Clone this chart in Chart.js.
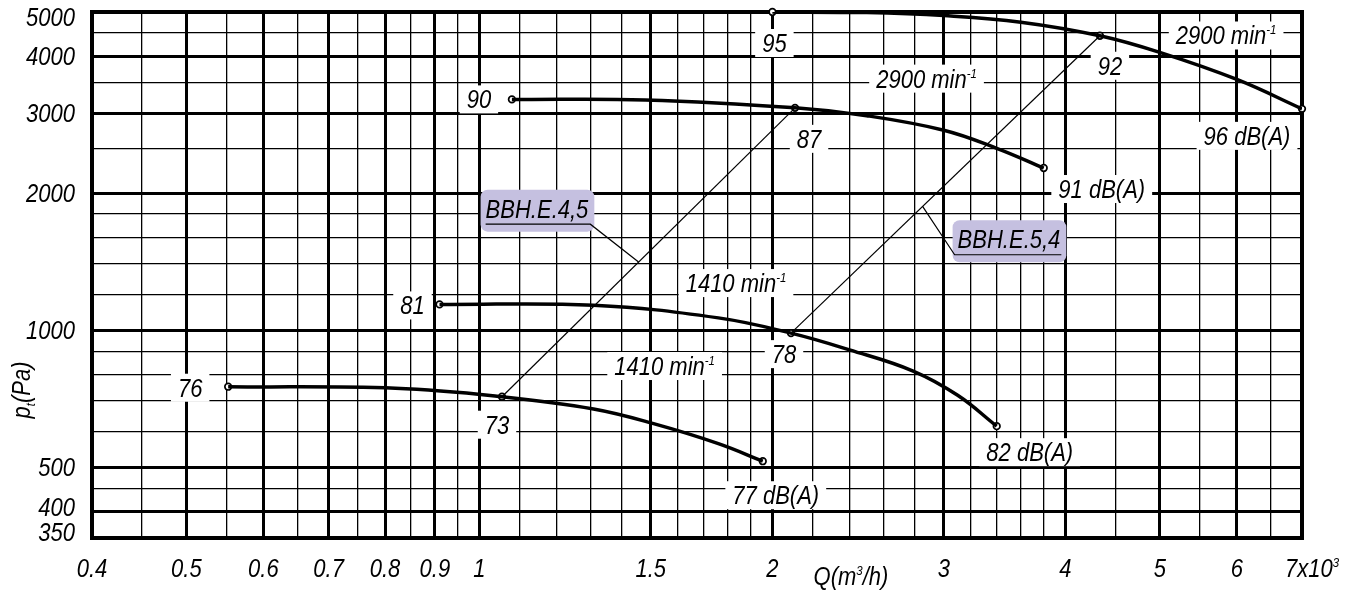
<!DOCTYPE html>
<html>
<head>
<meta charset="utf-8">
<script src="https://cdn.jsdelivr.net/npm/chart.js@4.4.0/dist/chart.umd.min.js"></script>
<style>
  html, body { margin: 0; padding: 0; background: #fff; }
  canvas { display: block; }
</style>
</head>
<body>
<canvas id="fanChart" width="1355" height="594"></canvas>
<script>
// Q in 10^3 m3/h, pt in Pa, both log scales
const qMajor = [0.4, 0.5, 0.6, 0.7, 0.8, 0.9, 1, 1.5, 2, 3, 4, 5, 6, 7];
const qLabels = ['0.4', '0.5', '0.6', '0.7', '0.8', '0.9', '1', '1.5', '2', '3', '4', '5', '6', '7x10'];
const qMinor = [0.45, 0.55, 0.65, 0.75, 0.85, 0.95, 1.1, 1.2, 1.3, 1.4, 1.6, 1.7, 1.8, 1.9,
  2.2, 2.4, 2.6, 2.8, 3.2, 3.4, 3.6, 3.8, 4.5, 5.5, 6.5];
const pMajor = [350, 400, 500, 1000, 2000, 3000, 4000, 5000];
const pLabels = ['350', '400', '500', '1000', '2000', '3000', '4000', '5000'];
const pMinor = [450, 600, 700, 800, 900, 1200, 1400, 1600, 1800, 2500, 3500, 4500];

// BBH.E.4,5 at 1410 min-1
const q45slow = [0.552, 0.82, 1.055, 1.31, 1.51, 1.76, 1.955];
const p45slow = [752, 746, 715, 672, 624, 564, 516];
// BBH.E.5,4 at 1410 min-1
const q54slow = [0.91, 1.31, 1.76, 2.09, 2.4, 2.79, 3.1, 3.4];
const p54slow = [1140, 1135, 1065, 986, 906, 814, 720, 616];
// BBH.E.4,5 at 2900 min-1
const q45fast = [1.08, 1.48, 2.11, 2.5, 3.0, 3.4, 3.8];
const p45fast = [3214, 3205, 3080, 2960, 2750, 2510, 2272];
// BBH.E.5,4 at 2900 min-1
const q54fast = [2.0, 2.5, 3.0, 3.6, 4.34, 5.0, 6.0, 7.0];
const p54fast = [5000, 4985, 4910, 4750, 4434, 4077, 3555, 3064];

// marked points with their sound levels
const qMarks = [0.552, 1.055, 1.955, 0.91, 2.09, 3.4, 1.08, 2.11, 3.8, 2.0, 4.34, 7.0];
const pMarks = [752, 715, 516, 1140, 986, 616, 3214, 3080, 2272, 5000, 4434, 3064];
const dbMarks = ['76', '73', '77 dB(A)', '81', '78', '82 dB(A)', '90', '87', '91 dB(A)', '95', '92', '96 dB(A)'];

// system lines join two marked points (index into marks)
const line45 = [1, 7];
const line54 = [4, 10];

const zip = (qs, ps) => qs.map((q, i) => ({ x: q, y: ps[i] }));

const FONT = 'italic 25px "Liberation Sans", Arial, sans-serif';
const SMALL = 'italic 13px "Liberation Sans", Arial, sans-serif';
const SX = 0.88;

function measure(ctx, parts) {
  let w = 0;
  parts.forEach((p) => {
    ctx.font = p.sup || p.sub ? SMALL : FONT;
    w += ctx.measureText(p.t).width * SX;
  });
  return w;
}
function drawParts(ctx, parts, x, base) {
  parts.forEach((p) => {
    ctx.font = p.sup || p.sub ? SMALL : FONT;
    const dy = p.sup ? -10 : (p.sub ? 5 : 0);
    ctx.save();
    ctx.translate(x, base + dy);
    ctx.scale(SX, 1);
    ctx.fillText(p.t, 0, 0);
    ctx.restore();
    x += ctx.measureText(p.t).width * SX;
  });
}
function whiteLabel(ctx, parts, cx, cy) {
  const w = measure(ctx, parts);
  ctx.fillStyle = '#fff';
  ctx.fillRect(cx - w / 2 - 7, cy - 14, w + 14, 28);
  ctx.fillStyle = '#000';
  drawParts(ctx, parts, cx - w / 2, cy + 9);
}
const rpm = (n) => [{ t: n + ' min' }, { t: '-1', sup: true }];

// label offsets from their marker, px
const dbOffsets = [[-38, 1], [-5, 28], [13, 34], [-27, 1], [-7, 21], [33, 26],
  [-33, 0], [14, 31], [58, 21], [2, 31], [10, 30], [-55, 27]];
const rpmNotes = [
  { text: '2900', q: 5.85, p: 4440 },
  { text: '2900', q: 2.88, p: 3570 },
  { text: '1410', q: 1.835, p: 1270 },
  { text: '1410', q: 1.55, p: 835 },
];
const typeNotes = [
  { text: 'BBH.E.4,5', q: 1.146, p: 1850, line: line45, t: 0.466, side: 'right' },
  { text: 'BBH.E.5,4', q: 3.5, p: 1585, line: line54, t: 0.426, side: 'left' },
];

function roundRect(ctx, x, y, w, h, r) {
  ctx.beginPath();
  ctx.moveTo(x + r, y);
  ctx.arcTo(x + w, y, x + w, y + h, r);
  ctx.arcTo(x + w, y + h, x, y + h, r);
  ctx.arcTo(x, y + h, x, y, r);
  ctx.arcTo(x, y, x + w, y, r);
  ctx.closePath();
}

const paper = {
  id: 'paper',
  beforeDatasetsDraw(chart) {
    const { ctx, chartArea: a, scales: { x, y } } = chart;
    ctx.save();
    ctx.strokeStyle = '#000';
    ctx.lineWidth = 4;
    ctx.strokeRect(a.left, a.top, a.right - a.left, a.bottom - a.top);

    dbMarks.forEach((txt, i) => {
      const px = x.getPixelForValue(qMarks[i]) + dbOffsets[i][0];
      const py = y.getPixelForValue(pMarks[i]) + dbOffsets[i][1];
      whiteLabel(ctx, [{ t: txt }], px, py);
    });
    rpmNotes.forEach((n) => {
      whiteLabel(ctx, rpm(n.text), x.getPixelForValue(n.q), y.getPixelForValue(n.p));
    });

    typeNotes.forEach((n) => {
      const parts = [{ t: n.text }];
      const w = measure(ctx, parts);
      const cx = x.getPixelForValue(n.q);
      const cy = y.getPixelForValue(n.p);
      const left = cx - w / 2;
      ctx.fillStyle = '#c5c0e0';
      roundRect(ctx, left - 5, cy - 19, w + 11, 42, 7);
      ctx.fill();
      ctx.fillStyle = '#000';
      drawParts(ctx, parts, left, cy + 9);
      const i0 = n.line[0];
      const i1 = n.line[1];
      const x0 = x.getPixelForValue(qMarks[i0]);
      const y0 = y.getPixelForValue(pMarks[i0]);
      const x1 = x.getPixelForValue(qMarks[i1]);
      const y1 = y.getPixelForValue(pMarks[i1]);
      const lx = x0 + (x1 - x0) * n.t;
      const ly = y0 + (y1 - y0) * n.t;
      const uy = cy + 15.5;
      ctx.lineWidth = 1.2;
      ctx.beginPath();
      if (n.side === 'right') {
        ctx.moveTo(left, uy);
        ctx.lineTo(left + w + 2, uy);
        ctx.lineTo(lx, ly);
      } else {
        ctx.moveTo(left + w + 1, uy);
        ctx.lineTo(left - 3, uy);
        ctx.lineTo(lx, ly);
      }
      ctx.stroke();
    });
    ctx.restore();
  },
  afterDraw(chart) {
    const { ctx, chartArea: a, scales: { x, y } } = chart;
    ctx.save();
    ctx.fillStyle = '#000';
    qMajor.forEach((v, i) => {
      const px = x.getPixelForValue(v);
      if (i === qMajor.length - 1) {
        drawParts(ctx, [{ t: qLabels[i] }, { t: '3', sup: true }], px - 17, 577);
      } else {
        const parts = [{ t: qLabels[i] }];
        drawParts(ctx, parts, px - measure(ctx, parts) / 2, 577);
      }
    });
    pMajor.forEach((v, i) => {
      const parts = [{ t: pLabels[i] }];
      let py = y.getPixelForValue(v);
      py = Math.max(a.top + 5, Math.min(a.bottom - 6, py));
      if (v === 400) py -= 5;
      drawParts(ctx, parts, 75 - measure(ctx, parts), py + 9);
    });

    const qTitle = [{ t: 'Q(m' }, { t: '3', sup: true }, { t: '/h)' }];
    drawParts(ctx, qTitle, 851 - measure(ctx, qTitle) / 2, 585);

    const pTitle = [{ t: 'p' }, { t: 't', sub: true }, { t: '(Pa)' }];
    ctx.translate(26, 390);
    ctx.rotate(-Math.PI / 2);
    drawParts(ctx, pTitle, -measure(ctx, pTitle) / 2, 4);
    ctx.restore();
  },
};

const curveStyle = {
  borderColor: '#000',
  borderWidth: 3.5,
  pointRadius: 0,
  tension: 0.4,
  fill: false,
};
const thinStyle = {
  borderColor: '#000',
  borderWidth: 1.2,
  pointRadius: 0,
  fill: false,
};

const gridFor = (major) => ({
  drawTicks: false,
  color: '#000',
  lineWidth: (c) => (c.tick && major.includes(c.tick.value) ? 3 : 1.3),
});

const fanChart = new Chart(document.getElementById('fanChart'), {
  type: 'line',
  data: {
    datasets: [
      { ...curveStyle, data: zip(q45slow, p45slow) },
      { ...curveStyle, data: zip(q54slow, p54slow) },
      { ...curveStyle, data: zip(q45fast, p45fast) },
      { ...curveStyle, data: zip(q54fast, p54fast) },
      { ...thinStyle, data: line45.map((i) => ({ x: qMarks[i], y: pMarks[i] })) },
      { ...thinStyle, data: line54.map((i) => ({ x: qMarks[i], y: pMarks[i] })) },
      {
        data: zip(qMarks, pMarks),
        showLine: false,
        pointRadius: 3.3,
        pointBorderWidth: 1.7,
        pointBackgroundColor: '#fff',
        pointBorderColor: '#000',
        clip: false,
      },
    ],
  },
  options: {
    responsive: false,
    animation: false,
    devicePixelRatio: 1,
    layout: { padding: { left: 92, right: 53, top: 12, bottom: 56 } },
    plugins: { legend: { display: false }, tooltip: { enabled: false } },
    scales: {
      x: {
        type: 'logarithmic',
        min: 0.4,
        max: 7,
        afterBuildTicks: (axis) => {
          axis.ticks = qMajor.concat(qMinor).sort((a, b) => a - b).map((v) => ({ value: v }));
        },
        ticks: { display: false },
        grid: gridFor(qMajor),
        border: { display: false },
      },
      y: {
        type: 'logarithmic',
        min: 350,
        max: 5000,
        afterBuildTicks: (axis) => {
          axis.ticks = pMajor.concat(pMinor).sort((a, b) => a - b).map((v) => ({ value: v }));
        },
        ticks: { display: false },
        grid: gridFor(pMajor),
        border: { display: false },
      },
    },
  },
  plugins: [paper],
});
</script>
</body>
</html>
